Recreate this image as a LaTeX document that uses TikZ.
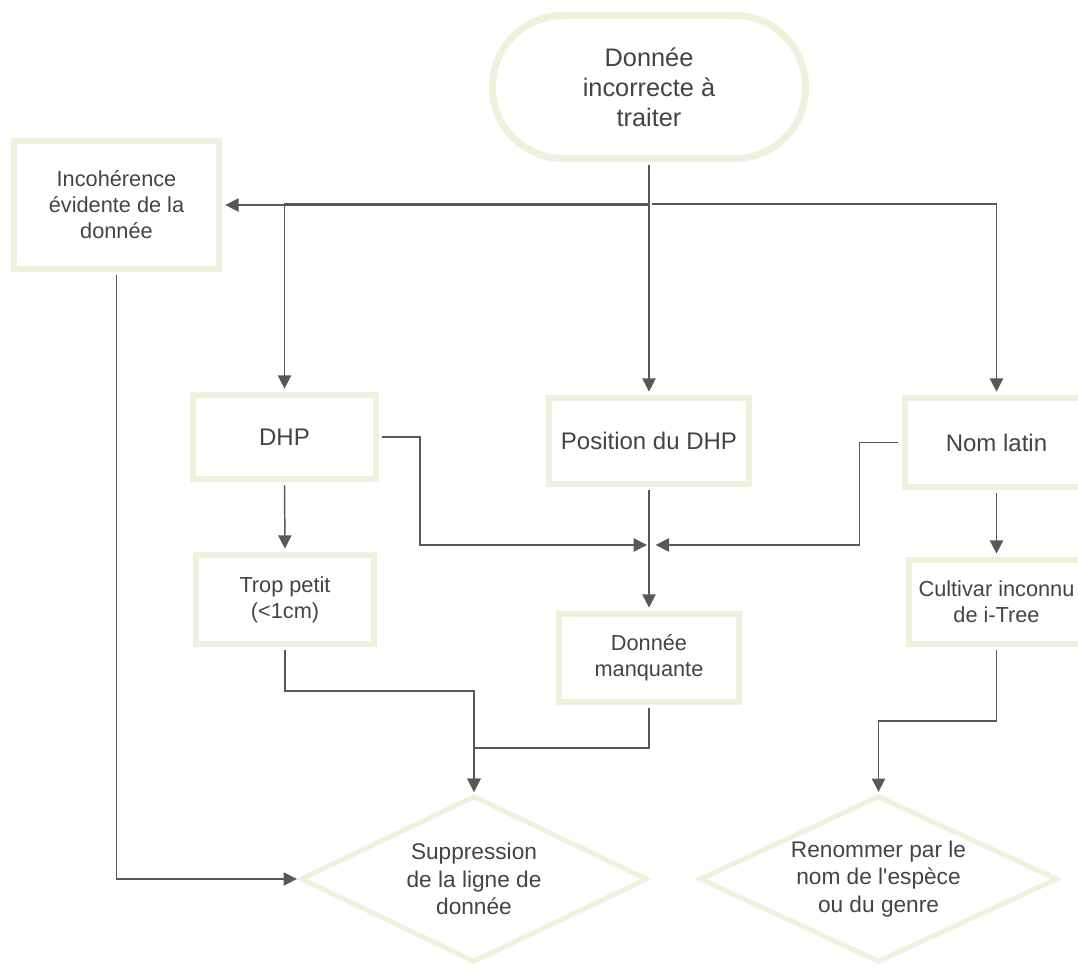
\documentclass[tikz,border=0pt]{standalone}
\usepackage{fontspec}
\setmainfont{Liberation Sans}[Ligatures=TeXOff]
\usetikzlibrary{shapes.geometric,arrows.meta,calc}
\definecolor{bord}{RGB}{238,242,220}
\definecolor{lncol}{RGB}{88,88,88}
\definecolor{txt}{RGB}{68,68,68}
\begin{document}
\begin{tikzpicture}[x=0.75pt,y=-0.75pt,
  box/.style={draw=bord, line width=4.5pt, fill=white, rectangle, inner sep=0pt, align=center, text=txt},
  big/.style={font=\fontsize{18}{21}\selectfont},
  small/.style={font=\fontsize{16.3}{19.5}\selectfont},
  term/.style={draw=bord, line width=5.25pt, fill=white, rectangle, rounded corners=53pt, inner sep=0pt, align=center, text=txt, font=\fontsize{19}{22.5}\selectfont, minimum width=234.75pt, minimum height=107.25pt},
  dia/.style={draw=bord, line width=3.75pt, fill=white, diamond, aspect=2, inner sep=0pt, align=center, text=txt, font=\fontsize{17}{20.5}\selectfont, minimum height=125pt},
  ln/.style={draw=lncol, line width=1.1pt, shorten <=2.5pt},
  arr/.style={ln, -{Triangle[length=10pt,width=10pt]}, shorten >=2.5pt}]
\useasboundingbox (0,0) rectangle (1078,969);
\fill[white] (0,0) rectangle (1078,969);

\node[term] (top) at (649,87) {Donnée\\incorrecte à\\traiter};
\node[box,small,minimum width=153.75pt,minimum height=96pt] (left) at (116.5,205) {Incohérence\\évidente de la\\donnée};
\node[box,big,minimum width=137.25pt,minimum height=63pt] (DHP) at (284.5,437) {DHP};
\node[box,big,minimum width=150pt,minimum height=64.5pt] (Pos) at (649,441) {Position du DHP};
\node[box,big,minimum width=138pt,minimum height=66.75pt] (Nom) at (996.5,442.5) {Nom latin};
\node[box,small,minimum width=133.5pt,minimum height=66.75pt] (Trop) at (285,599.5) {Trop petit\\(<1cm)};
\node[box,small,minimum width=135pt,minimum height=66pt] (Manq) at (649,658) {Donnée\\manquante};
\node[box,small,minimum width=132pt,minimum height=63pt] (Cult) at (996.5,602) {Cultivar inconnu\\de i-Tree};
\node[dia,minimum width=260pt] (Supp) at (474,879) {Suppression\\de la ligne de\\donnée};
\node[dia,minimum width=268.5pt] (Ren) at (878.5,879) {Renommer par le\\nom de l'espèce\\ou du genre};

\coordinate (sp) at (649,204);
\coordinate (jn) at (649,545);

\draw[arr] (top.south) |- (left.east);
\draw[arr] (top.south) -- (sp) -| (DHP.north);
\draw[arr] (top.south) -- (Pos.north);
\draw[arr] (sp) -| (Nom.north);
\draw[arr, shorten >=1.5pt] (DHP.east) -- ++(41,0) |- (jn);
\draw[arr, shorten >=5pt] (Nom.west) -- ++(-42,0) |- (jn);
\draw[arr] (Pos.south) -- (Manq.north);
\draw[arr] (DHP.south) -- (Trop.north);
\draw[arr] (Nom.south) -- (Cult.north);
\draw[arr, shorten >=1pt] (Trop.south) -- ++(0,44) -| (Supp.north);
\draw[arr, shorten >=1pt] (Manq.south) -- ++(0,43) -| (Supp.north);
\draw[arr, shorten >=1pt] (left.south) |- (Supp.west);
\draw[arr, shorten >=1pt] (Cult.south) -- ++(0,74) -| (Ren.north);
\end{tikzpicture}
\end{document}
